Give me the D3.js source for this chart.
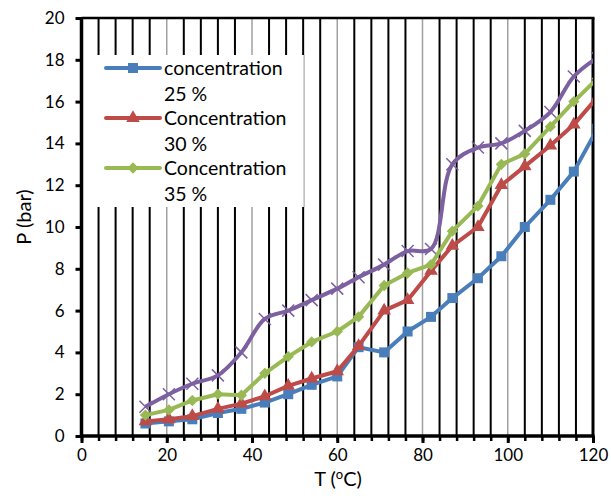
<!DOCTYPE html>
<html><head><meta charset="utf-8">
<script src="https://cdn.jsdelivr.net/npm/d3@7"></script>
<style>
html,body{margin:0;padding:0;background:#fff;}
svg{display:block;font-family:Lato,"Open Sans",sans-serif;}
</style></head>
<body>
<svg id="c" width="611" height="502"></svg>
<script>
const temps = [15,20.5,26,32,37.5,43,48.5,54,60,65,71,76.5,82,87,93,98.5,104,110,115.5,121];
const conc25 = [0.6,0.7,0.8,1.1,1.3,1.6,2.0,2.45,2.85,4.25,4.0,5.0,5.7,6.6,7.55,8.6,10.0,11.3,12.65,14.7];
const conc30 = [0.7,0.8,0.95,1.3,1.55,1.9,2.4,2.75,3.1,4.3,6.0,6.5,7.9,9.1,10.0,12.0,12.9,13.9,14.9,16.2];
const conc35 = [1.0,1.25,1.7,2.0,1.95,3.0,3.8,4.5,5.0,5.7,7.2,7.8,8.2,9.8,11.0,13.0,13.5,14.8,16.0,17.1];
const conc40 = [1.4,2.0,2.5,2.9,4.0,5.6,6.0,6.5,7.05,7.6,8.2,8.85,8.95,13.0,13.8,14.0,14.6,15.5,17.2,18.1];
const seriesNames = ["concentration\n25 %","Concentration\n30 %","Concentration\n35 %"];
const xTicks = [0,20,40,60,80,100,120];
const yTicks = [0,2,4,6,8,10,12,14,16,18,20];

const svg = d3.select("#c");
const x = d3.scaleLinear().domain([0,120]).range([81.5,593]);
const y = d3.scaleLinear().domain([0,20]).range([436,18]);

// gridlines
const minor = d3.range(4,120,4).filter(v=>v%20!==0);
const major = [20,40,60,80,100];
svg.append("g").selectAll("line").data(minor).join("line")
  .attr("x1",d=>x(d)).attr("x2",d=>x(d)).attr("y1",y(20)).attr("y2",y(0))
  .attr("stroke","#000").attr("stroke-width",2);
svg.append("g").selectAll("line").data(major).join("line")
  .attr("x1",d=>x(d)).attr("x2",d=>x(d)).attr("y1",y(20)).attr("y2",y(0))
  .attr("stroke","#a0a0a0").attr("stroke-width",1.5);

// legend box
const lg = svg.append("g");
lg.append("rect").attr("x",91).attr("y",55).attr("width",213).attr("height",152).attr("fill","#fff");
lg.append("line").attr("x1",304).attr("x2",304).attr("y1",55).attr("y2",207).attr("stroke","#aaa").attr("stroke-width",1);

// frame
svg.append("line").attr("x1",x(0)).attr("x2",x(120)+1.5).attr("y1",y(20)).attr("y2",y(20)).attr("stroke","#000").attr("stroke-width",2.5);
svg.append("line").attr("x1",x(120)).attr("x2",x(120)).attr("y1",y(20)).attr("y2",y(0)).attr("stroke","#000").attr("stroke-width",3);

// axes
const xAxisMinor = d3.axisBottom(x).tickValues(d3.range(0,121,4)).tickSize(5).tickFormat("");
const xAx = svg.append("g").attr("transform",`translate(0,${y(0)})`).call(xAxisMinor);
xAx.select(".domain").remove();
xAx.selectAll("line").attr("stroke","#000").attr("stroke-width",2.5);
const xAxisMajor = d3.axisBottom(x).tickValues(xTicks).tickSize(7).tickPadding(6).tickFormat(d3.format("d"));
const xAx2 = svg.append("g").attr("transform",`translate(0,${y(0)})`).call(xAxisMajor);
xAx2.select(".domain").remove();
xAx2.selectAll("line").attr("stroke","#000").attr("stroke-width",3);
xAx2.selectAll("text").attr("font-size",17).attr("fill","#000").attr("font-family","Lato,sans-serif");

const yAxis = d3.axisLeft(y).tickValues(yTicks).tickSize(6).tickPadding(8);
const yAx = svg.append("g").attr("transform",`translate(${x(0)},0)`).call(yAxis);
yAx.select(".domain").remove();
yAx.selectAll("line").attr("stroke","#000").attr("stroke-width",3);
yAx.selectAll("text").attr("font-size",17).attr("fill","#000").attr("font-family","Lato,sans-serif").attr("dx",-3);

svg.append("line").attr("x1",x(0)).attr("x2",x(0)).attr("y1",y(20)-1).attr("y2",y(0)+1.5).attr("stroke","#000").attr("stroke-width",3.5);
svg.append("line").attr("x1",x(0)-1.5).attr("x2",x(120)+1.5).attr("y1",y(0)).attr("y2",y(0)).attr("stroke","#000").attr("stroke-width",3.5);

// axis titles
svg.append("text").attr("x",338).attr("y",486).attr("text-anchor","middle").attr("font-size",20).attr("fill","#000")
  .call(t=>{t.append("tspan").text("T (");t.append("tspan").text("o").attr("font-size",13).attr("dy",-7);t.append("tspan").text("C)").attr("dy",7);});
svg.append("text").attr("transform","translate(31,217) rotate(-90)").attr("text-anchor","middle").attr("font-size",20).attr("fill","#000").text("P (bar)");

// series
const clip = svg.append("clipPath").attr("id","pc").append("rect")
  .attr("x",x(0)).attr("y",y(20)).attr("width",x(120)-x(0)).attr("height",y(0)-y(20));
const plot = svg.append("g").attr("clip-path","url(#pc)");

const colors = ["#4A7EBB","#BE4B48","#98B954","#7D60A0"];
const data = [conc25,conc30,conc35,conc40].map(arr=>arr.map((v,i)=>[temps[i],v]));
const lineLin = d3.line().x(d=>x(d[0])).y(d=>y(d[1]));
const lineSmooth = d3.line().x(d=>x(d[0])).y(d=>y(d[1])).curve(d3.curveCatmullRom.alpha(0.5));

function drawMarkers(g, pts, k){
  const c = colors[k];
  if(k===0){
    g.selectAll("rect.m").data(pts).join("rect").attr("class","m")
      .attr("x",d=>x(d[0])-5).attr("y",d=>y(d[1])-5).attr("width",10).attr("height",10).attr("fill",c);
  } else if(k===1){
    g.selectAll("path.m").data(pts).join("path").attr("class","m")
      .attr("transform",d=>`translate(${x(d[0])},${y(d[1])})`)
      .attr("d",d3.symbol(d3.symbolTriangle,80)).attr("fill",c);
  } else if(k===2){
    g.selectAll("path.m").data(pts).join("path").attr("class","m")
      .attr("transform",d=>`translate(${x(d[0])},${y(d[1])}) rotate(45)`)
      .attr("d","M-4,-4h8v8h-8z").attr("fill",c);
  } else {
    g.selectAll("path.m").data(pts).join("path").attr("class","m")
      .attr("transform",d=>`translate(${x(d[0])},${y(d[1])})`)
      .attr("d","M-6,-6L6,6M-6,6L6,-6").attr("stroke",c).attr("stroke-width",1.5).attr("fill","none");
  }
}

[3,0,1,2].forEach(k=>{
  const g = plot.append("g");
  g.append("path").datum(data[k]).attr("d",k===3?lineSmooth:lineLin)
    .attr("fill","none").attr("stroke",colors[k]).attr("stroke-width",4).attr("stroke-linejoin","round");
  drawMarkers(g,data[k],k);
});

// legend entries
const rows = [68,118,168];
seriesNames.forEach((name,k)=>{
  const yy = rows[k];
  lg.append("line").attr("x1",106).attr("x2",160).attr("y1",yy).attr("y2",yy)
    .attr("stroke",colors[k]).attr("stroke-width",4).attr("stroke-linecap","round");
  const mg = lg.append("g").attr("transform",`translate(${-x(0)+133},0)`);
  drawMarkers(mg,[[0,y.invert(yy)]],k);
  const parts = name.split("\n");
  lg.append("text").attr("x",164).attr("y",yy+7).attr("font-size",19.5).attr("fill","#000").text(parts[0]);
  lg.append("text").attr("x",164).attr("y",yy+33).attr("font-size",19.5).attr("fill","#000").text(parts[1]);
});
</script>
</body></html>
